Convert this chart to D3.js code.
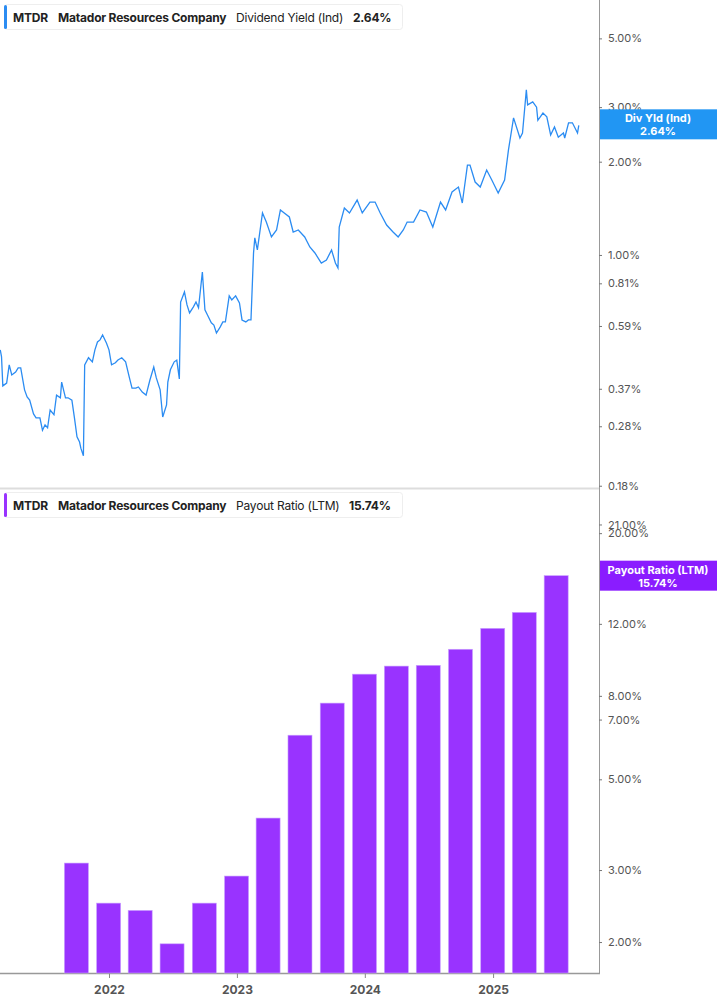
<!DOCTYPE html>
<html><head><meta charset="utf-8">
<script src="https://cdn.jsdelivr.net/npm/d3@7"></script>
<style>body{margin:0;background:#fff;font-family:Inter,"Noto Sans",sans-serif}</style>
</head><body><div id="chart"></div>
<script>
// dividend yield, decimal year -> %
const yieldDates = [2021.15,2021.16,2021.17,2021.20,2021.22,2021.24,2021.27,2021.29,2021.31,2021.34,2021.36,2021.38,2021.41,2021.43,2021.46,2021.48,2021.50,2021.52,2021.54,2021.57,2021.59,2021.62,2021.63,2021.66,2021.68,2021.71,2021.73,2021.75,2021.77,2021.78,2021.80,2021.81,2021.84,2021.87,2021.89,2021.91,2021.93,2021.95,2021.98,2022.00,2022.02,2022.05,2022.07,2022.10,2022.13,2022.16,2022.18,2022.21,2022.23,2022.26,2022.29,2022.32,2022.35,2022.37,2022.40,2022.42,2022.45,2022.46,2022.48,2022.51,2022.53,2022.55,2022.56,2022.59,2022.61,2022.63,2022.66,2022.68,2022.70,2022.73,2022.75,2022.77,2022.80,2022.82,2022.84,2022.87,2022.89,2022.91,2022.94,2022.96,2022.99,2023.02,2023.04,2023.07,2023.09,2023.11,2023.13,2023.14,2023.16,2023.20,2023.23,2023.27,2023.31,2023.34,2023.36,2023.41,2023.44,2023.48,2023.53,2023.57,2023.61,2023.66,2023.70,2023.74,2023.77,2023.79,2023.80,2023.84,2023.88,2023.94,2023.98,2024.04,2024.08,2024.12,2024.17,2024.22,2024.26,2024.30,2024.33,2024.38,2024.43,2024.48,2024.53,2024.59,2024.63,2024.68,2024.73,2024.76,2024.80,2024.82,2024.86,2024.90,2024.95,2024.99,2025.04,2025.09,2025.12,2025.16,2025.21,2025.23,2025.26,2025.27,2025.31,2025.34,2025.35,2025.39,2025.42,2025.45,2025.48,2025.51,2025.55,2025.56,2025.59,2025.62,2025.66,2025.67];
const yieldValues = [0.494,0.469,0.378,0.386,0.442,0.410,0.419,0.432,0.432,0.367,0.348,0.340,0.307,0.298,0.298,0.272,0.283,0.277,0.316,0.305,0.353,0.346,0.389,0.346,0.346,0.340,0.298,0.259,0.249,0.238,0.225,0.442,0.466,0.452,0.494,0.524,0.532,0.552,0.520,0.494,0.442,0.449,0.458,0.466,0.452,0.401,0.372,0.372,0.375,0.361,0.353,0.395,0.435,0.401,0.367,0.300,0.328,0.389,0.426,0.452,0.458,0.398,0.705,0.760,0.690,0.650,0.680,0.705,0.675,0.881,0.665,0.640,0.604,0.594,0.560,0.586,0.608,0.608,0.738,0.716,0.738,0.700,0.617,0.608,0.617,0.617,1.015,1.135,1.038,1.366,1.277,1.143,1.204,1.397,1.376,1.326,1.186,1.204,1.143,1.061,1.015,0.942,0.963,1.038,0.942,0.908,1.231,1.418,1.366,1.504,1.366,1.482,1.482,1.366,1.249,1.186,1.143,1.204,1.277,1.277,1.397,1.376,1.231,1.482,1.397,1.597,1.656,1.471,1.950,1.950,1.719,1.656,1.880,1.745,1.585,1.745,2.180,2.770,2.385,2.475,3.410,3.050,3.120,3.000,2.720,2.870,2.790,2.440,2.590,2.400,2.475,2.385,2.670,2.670,2.475,2.620];
// payout ratio (LTM), quarter ends
const payoutDates = ["2021-09-30","2021-12-31","2022-03-31","2022-06-30","2022-09-30","2022-12-31","2023-03-31","2023-06-30","2023-09-30","2023-12-31","2024-03-31","2024-06-30","2024-09-30","2024-12-31","2025-03-31","2025-06-30"];
const payoutValues = [3.12,2.49,2.39,1.98,2.49,2.90,4.02,6.41,7.68,9.04,9.46,9.50,10.4,11.7,12.8,15.74];
const yieldTicks = [5,3,2,1,0.81,0.59,0.37,0.28,0.18];
const payoutTicks = [21,20,12,8,7,5,3,2];
const yearTicks = [2022,2023,2024,2025];

const W = 717, H = 1005, plotR = 599;
const toDate = y => { const yr = Math.floor(y); const s = new Date(yr,0,1), e = new Date(yr+1,0,1); return new Date(+s + (y-yr)*(e-s)); };

const svg = d3.select("#chart").append("svg").attr("width",W).attr("height",H);
const x = d3.scaleTime().domain([toDate(2021.148), toDate(2025.828)]).range([0, plotR]);
const yTop = d3.scaleLog().domain([0.177, 6.65]).range([488, 0]);
const yBot = d3.scaleLog().domain([1.68, 25.5]).range([973, 490]);
const fmt = v => v.toFixed(2) + "%";

// frames
svg.append("line").attr("x1",plotR+0.5).attr("x2",plotR+0.5).attr("y1",0).attr("y2",973).attr("stroke","#999");
svg.append("line").attr("x1",0).attr("x2",plotR).attr("y1",488.5).attr("y2",488.5).attr("stroke","#ddd").attr("stroke-width",2);
svg.append("line").attr("x1",0).attr("x2",plotR+1).attr("y1",973.5).attr("y2",973.5).attr("stroke","#999").attr("stroke-width",1.5);

// right axes
function rightAxis(scale, ticks) {
  const g = svg.append("g").attr("transform",`translate(${plotR},0)`)
    .call(d3.axisRight(scale).tickValues(ticks).tickFormat(fmt).tickSize(3).tickPadding(6));
  g.select(".domain").remove();
  g.selectAll("line").attr("stroke","#777");
  g.selectAll("text").attr("fill","#555").style("font-size","11px").style("font-family","Inter,sans-serif");
}
rightAxis(yTop, yieldTicks);
rightAxis(yBot, payoutTicks);

// x axis
const xa = svg.append("g").attr("transform","translate(0,973)")
  .call(d3.axisBottom(x).tickValues(yearTicks.map(y => new Date(y,0,1))).tickFormat(d3.timeFormat("%Y")).tickSize(5).tickPadding(7));
xa.select(".domain").remove();
xa.selectAll("line").attr("stroke","#888");
xa.selectAll("text").attr("fill","#555").style("font-size","12px").style("font-weight","700").style("font-family","Inter,sans-serif");

// line
const pts = yieldDates.map((d,i) => [toDate(d), yieldValues[i]]);
svg.append("path").datum(pts).attr("fill","none").attr("stroke","#2b8cf2").attr("stroke-width",1.3)
  .attr("d", d3.line().x(d => x(d[0])).y(d => yTop(d[1])));

// bars
const parse = d3.timeParse("%Y-%m-%d");
svg.selectAll("rect.bar").data(payoutValues).enter().append("rect").attr("class","bar")
  .attr("x",(d,i) => x(parse(payoutDates[i])) - 12).attr("width",24)
  .attr("y", d => yBot(d)).attr("height", d => 973 - yBot(d))
  .attr("fill","#9933ff").attr("stroke","#c9a0ff").attr("stroke-width",0.6);

// legends
function legend(y0, color, label, val, valX, w) {
  const g = svg.append("g");
  g.append("rect").attr("x",4.5).attr("y",y0+0.5).attr("width",w).attr("height",25).attr("rx",3).attr("fill","#fff").attr("stroke","#eee");
  g.append("rect").attr("x",4).attr("y",y0+1).attr("width",3).attr("height",24).attr("rx",1.5).attr("fill",color);
  const t = [["MTDR",13,700],["Matador Resources Company",58,700],[label,236,400],[val,valX,700]];
  t.forEach(([s,tx,fw]) => g.append("text").attr("x",tx).attr("y",y0+17.5).text(s)
    .style("font-size","12px").style("font-weight",fw).style("letter-spacing","-0.2px")
    .attr("fill","#222").style("font-family","Inter,sans-serif"));
}
legend(4, "#2b8cf2", "Dividend Yield (Ind)", "2.64%", 353, 398);
legend(492, "#9933ff", "Payout Ratio (LTM)", "15.74%", 349, 398);

// value tags
function tag(yc, color, l1, l2) {
  svg.append("rect").attr("x",plotR+1).attr("y",yc-15).attr("width",W-plotR).attr("height",30).attr("fill",color);
  [[l1,-2],[l2,11]].forEach(([s,dy]) => svg.append("text").attr("x",658).attr("y",yc+dy).attr("text-anchor","middle")
    .text(s).attr("fill","#fff").style("font-size","11px").style("font-weight","700").style("font-family","Inter,sans-serif"));
}
tag(yTop(2.64), "#2196f3", "Div Yld (Ind)", "2.64%");
tag(yBot(15.74), "#8a1cff", "Payout Ratio (LTM)", "15.74%");
</script></body></html>
